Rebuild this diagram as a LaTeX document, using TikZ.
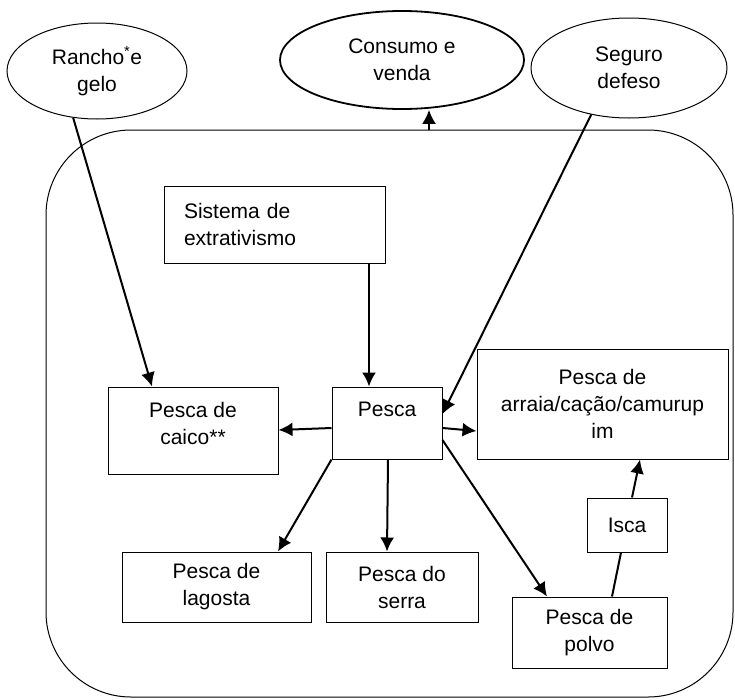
\documentclass[tikz,border=0pt]{standalone}
\usepackage{fontspec}
\setmainfont{Liberation Sans}
\usetikzlibrary{arrows.meta,positioning,shapes.geometric}

\tikzset{
  box/.style={draw, line width=1pt, rectangle, align=center, inner sep=0pt},
  oval/.style={draw, line width=1pt, ellipse, align=center, inner sep=0pt},
  arr/.style={-{Latex[length=14pt,width=14pt]}, line width=2pt},
}

\begin{document}
\begin{tikzpicture}[x=1pt, y=-1pt,
  font=\fontsize{21}{27}\selectfont
                        ]
\useasboundingbox (0,0) rectangle (735,699);
\node (sys) [draw, line width=1pt, rounded corners=85pt,
             minimum width=687pt, minimum height=567pt] at (389.5,413.5) {};

\node (rancho)  [oval, minimum width=180pt, minimum height=96pt] at (97,71) {Rancho\textsuperscript{*}e\\gelo};
\node (consumo) [oval, line width=1.8pt, minimum width=244pt, minimum height=98pt] at (402,60) {Consumo e\\venda};
\node (seguro)  [oval, minimum width=196pt, minimum height=100pt] at (629,68) {Seguro\\defeso};

\node (sistema) [box, align=left, text width=181pt, inner xsep=20pt,
                 minimum height=77pt] at (274.5,224.5) {Sistema de\\extrativismo};
\node (pesca)   [box, minimum width=110pt, minimum height=72pt] at (387,423) {Pesca\\\mbox{}};
\node (caico)   [box, minimum width=170pt, minimum height=87pt] at (193,430.5) {};
\node (caicotxt) [align=center] at ([yshift=7pt]caico.center) {Pesca de\\caico**};
\node (arraia)  [box, minimum width=251pt, minimum height=110pt] at (602.5,404) {Pesca de\\arraia/cação/camurup\\im};
\node (lagosta) [box, minimum width=189pt, minimum height=70pt] at (216.5,587) {Pesca de\\lagosta};
\node (serra)   [box, minimum width=152pt, minimum height=70pt, right=14pt of lagosta] {Pesca do\\serra};
\node (polvo)   [box, minimum width=155pt, minimum height=71pt] at (589.5,632.5) {Pesca de\\polvo};
\node (isca)    [box, minimum width=80pt, minimum height=54pt] at (627,525) {Isca};

%
\draw[arr] (sys.north -| 429,0) -- (consumo.south -| 429,0);
\draw[arr] (rancho.243) -- (caico.north -| 152,0);
\draw[arr] (seguro.231) -- (pesca.east |- 0,414);
\draw[arr] (sistema.south -| 369,0) -- (pesca.north -| 369,0);

%
\coordinate (e1) at (pesca.west |- 0,428);
\coordinate (e2) at (pesca.east |- 0,428);
\coordinate (e3) at (pesca.south west);
\coordinate (e4) at (pesca.south -| 388,0);
\coordinate (e5) at (pesca.east |- 0,440);
\coordinate (f1) at (caico.east |- 0,430);
\coordinate (f2) at (arraia.west |- 0,431);
\coordinate (f3) at (lagosta.north -| 278,0);
\coordinate (f4) at (serra.north -| 387,0);
\coordinate (f5) at (polvo.north -| 547,0);
\foreach \i in {1,...,5}
  \draw[arr] (e\i) -- (f\i);

\draw[line width=2pt] (polvo.north -| 612,0) -- (isca.south -| 621,0);
\draw[arr] (isca.north -| 632,0) -- (arraia.south -| 640,0);
\end{tikzpicture}
\end{document}
